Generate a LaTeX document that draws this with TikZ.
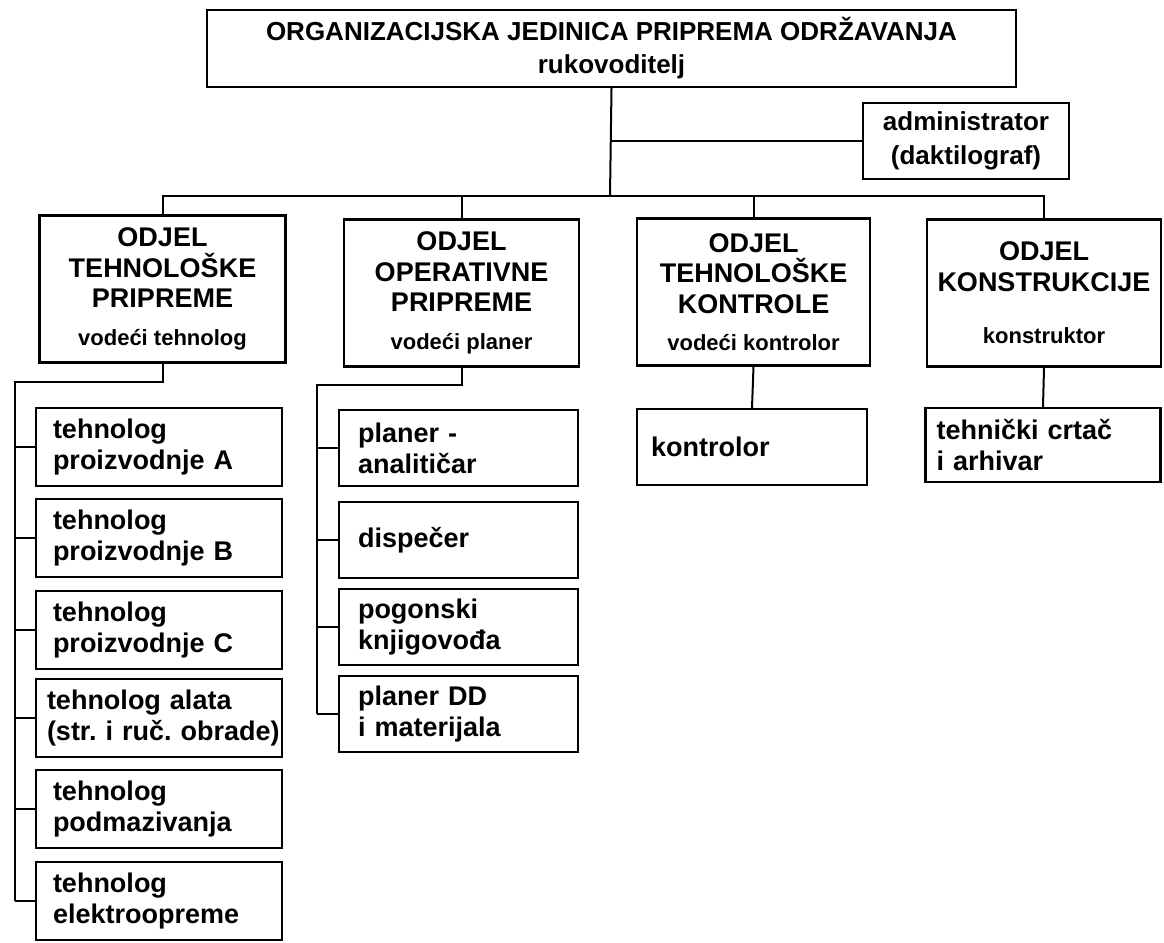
\documentclass[tikz,border=0pt]{standalone}
\usepackage{fontspec}
\setmainfont{Liberation Sans}
\newcommand{\boxfont}[2]{\fontsize{#1}{#2}\selectfont\bfseries\frenchspacing}
\newcommand{\subtext}{\fontsize{22}{30}\selectfont}

\begin{document}
\begin{tikzpicture}
	[
		x = 1pt, y = -1pt,
		every node/.append style = {draw, line width = 2.4pt, inner sep = 0pt},
		head/.style = {align = center, minimum width = 809pt, minimum height = 77pt, font = \boxfont{26}{33}},
		admin/.style = {align = center, minimum width = 206pt, minimum height = 76pt, font = \boxfont{26}{34}},
		dept/.style = {align = center, minimum height = 147pt, font = \boxfont{27}{30.5}},
		staff/.style = {align = left, inner xsep = 17pt, text width = 212pt, minimum height = 78pt, font = \boxfont{27}{31}},
		planstaff/.style = {staff, inner xsep = 19pt, text width = 201pt, minimum height = 76pt},
		link/.style = {line width = 2pt}]

	\useasboundingbox (0,0) rectangle (1164,942);

	\node[head] (org) at (611.5,48.5) {ORGANIZACIJSKA JEDINICA PRIPREMA ODRŽAVANJA\\rukovoditelj};
	\node[admin] (adm) at (966,141) {administrator\\(daktilograf)};

	\node[dept, minimum width = 246pt] (otp) at (162.5,289) {ODJEL\\TEHNOLOŠKE\\PRIPREME\\[7pt]{\subtext vodeći tehnolog}};
	\node[dept, minimum width = 235pt] (oop) at (461.5,293) {ODJEL\\OPERATIVNE\\PRIPREME\\[7pt]{\subtext vodeći planer}};
	\node[dept, minimum width = 233pt] (otk) at (753.5,292) {ODJEL\\TEHNOLOŠKE\\KONTROLE\\[7pt]{\subtext vodeći kontrolor}};
	\node[dept, minimum width = 234pt] (okn) at (1044,293) {ODJEL\\KONSTRUKCIJE\\[22pt]{\subtext konstruktor}};

	\node[staff] (tp1) at (159,447) {tehnolog\\proizvodnje A};
	\node[staff] (tp2) at (159,538) {tehnolog\\proizvodnje B};
	\node[staff] (tp3) at (159,630) {tehnolog\\proizvodnje C};
	\node[staff, inner xsep = 11pt, text width = 224pt] (tp4) at (159,718) {tehnolog alata\\\mbox{(str. i ruč. obrade)}};
	\node[staff] (tp5) at (159,809) {tehnolog\\podmazivanja};
	\node[staff] (tp6) at (159,901) {tehnolog\\elektroopreme};

	\node[planstaff] (op1) at (458.5,448) {planer -\\analitičar};
	\node[planstaff] (op2) at (458.5,540) {dispečer};
	\node[planstaff] (op3) at (458.5,627) {pogonski\\knjigovođa};
	\node[planstaff] (op4) at (458.5,714) {planer DD\\i materijala};

	\node[staff, inner xsep = 14pt, text width = 202pt, minimum height = 76pt] (tk1) at (752,447) {kontrolor};
	\node[staff, inner xsep = 11pt, text width = 213pt, minimum height = 74pt] (kk1) at (1043,445) {tehnički crtač\\i arhivar};

	\coordinate (bus) at (610,196);
	\coordinate (l1) at (15,382);
	\coordinate (l2) at (317,385);

	\draw[link] (org.south) -- (bus);
	\draw[link] (org.south |- adm.west) -- (adm.west);
	\draw[link] (otp.north) |- (bus) -| (okn.north);
	\draw[link] (oop.north) -- (oop.north |- bus);
	\draw[link] (otk.north) -- (otk.north |- bus);

	\draw[link] (otp.south) |- (l1) -- (l1 |- tp6.west);
	\foreach \n in {1,...,6}
		\draw[link] (l1 |- tp\n.west) -- (tp\n.west);

	\draw[link] (oop.south) |- (l2) -- (l2 |- op4.west);
	\foreach \n in {1,...,4}
		\draw[link] (l2 |- op\n.west) -- (op\n.west);

	\draw[link] (otk.south) -- (tk1.north);
	\draw[link] (okn.south) -- (kk1.north);
\end{tikzpicture}
\end{document}
